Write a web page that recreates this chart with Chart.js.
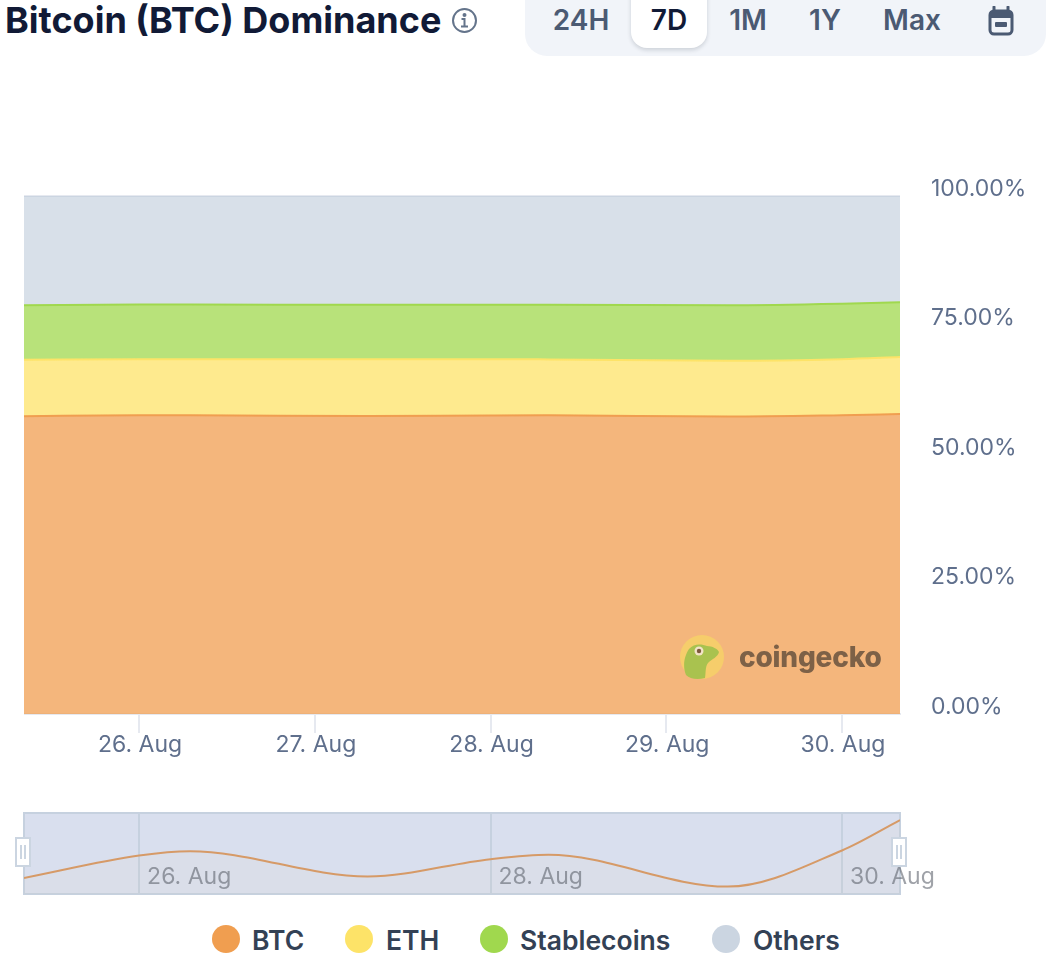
<!DOCTYPE html>
<html>
<head>
<meta charset="utf-8">
<title>Bitcoin (BTC) Dominance</title>
<script src="https://cdn.jsdelivr.net/npm/chart.js@4"></script>
<style>
    html, body { margin: 0; padding: 0; background: #fff; }
    body { width: 1046px; height: 956px; position: relative; overflow: hidden; font-family: Inter, sans-serif; }
    canvas { position: absolute; }
    #title { position: absolute; left: 5px; top: 0; line-height: 40px; font-size: 36px; font-weight: 700; color: #111a36; white-space: nowrap; }
    #info { position: absolute; left: 451px; top: 7px; }
    #tabs { position: absolute; left: 525px; top: -10px; width: 521px; height: 66px; background: #f1f4f9; border-radius: 0 0 22px 22px; }
    #active { position: absolute; left: 631px; top: -10px; width: 76px; height: 58px; background: #fff; border-radius: 0 0 16px 16px; box-shadow: 0 2px 4px rgba(15, 23, 42, .16); }
    .tab { position: absolute; top: 0; line-height: 40px; font-size: 28px; font-weight: 600; color: #4b5a73; transform: translateX(-50%); }
    .tab.on { color: #111a36; }
    #calendar { position: absolute; left: 987px; top: 6px; }
    #logo { position: absolute; left: 680px; top: 635px; }
    #brand { position: absolute; left: 739px; top: 638px; line-height: 38px; font-size: 28px; font-weight: 800; color: #7d6147; letter-spacing: -.2px; }
    .handle { position: absolute; top: 837px; width: 12px; height: 26px; background: #fff; border: 2px solid #cbd5e1; }
    .handle::after { content: ''; position: absolute; left: 3px; top: 6px; width: 2px; height: 14px; border-left: 2px solid #cbd5e1; border-right: 2px solid #cbd5e1; }
    .dot { position: absolute; top: 925px; width: 28px; height: 28px; border-radius: 50%; }
    .name { position: absolute; top: 920px; line-height: 40px; font-size: 26.5px; font-weight: 600; color: #334155; }
</style>
</head>
<body>
<div id="title">Bitcoin (BTC) Dominance</div>
<svg id="info" width="27" height="27" viewBox="0 0 27 27" fill="none" stroke="#64748b" stroke-width="2">
    <circle cx="13.5" cy="13.5" r="11.5"/>
    <path d="M10.5 12h3v7M10 19.5h7"/>
    <circle cx="13.5" cy="8" r="1" fill="#64748b"/>
</svg>
<div id="tabs"></div>
<div id="active"></div>
<div id="tabRow"></div>
<svg id="calendar" width="28" height="30" viewBox="0 0 28 30">
    <path d="M7 1v6M21 1v6" stroke="#4b5a73" stroke-width="3" stroke-linecap="round"/>
    <rect x="3" y="5" width="22" height="23" rx="4" fill="none" stroke="#4b5a73" stroke-width="3"/>
    <rect x="3" y="5" width="22" height="7" fill="#4b5a73"/>
    <rect x="8" y="16" width="12" height="5" rx="1" fill="#4b5a73"/>
</svg>

<canvas id="mainChart" style="left:24px;top:170px"></canvas>
<canvas id="navChart" style="left:22px;top:810px"></canvas>

<svg id="logo" width="44" height="44" viewBox="0 0 44 44">
    <circle cx="22" cy="22" r="22" fill="#f6cd6b"/>
    <path d="M6 40C2 30 5 20 9 14C14 8 22 9 27 11C32 11 38 14 39 17C38 22 32 24 28 28C25 32 26 38 25 43C17 45 10 44 6 40Z" fill="#a9c24f"/>
    <circle cx="19" cy="16" r="4.5" fill="#f3e3c8"/>
    <circle cx="19" cy="16" r="2.2" fill="#7d5a3c"/>
</svg>
<div id="brand">coingecko</div>

<div class="handle" style="left:15px"></div>
<div class="handle" style="left:891px"></div>
<div id="legend"></div>

<script>
// values
const days = [25.345, 26, 26.29, 27.3, 28, 28.33, 29.35, 30, 30.33];
const btc = [57.5, 57.655, 57.685, 57.51, 57.63, 57.66, 57.44, 57.69, 57.9];
const eth = [10.9, 10.845, 10.815, 10.99, 10.87, 10.79, 10.76, 10.81, 11];
const stablecoins = [10.5, 10.55, 10.55, 10.5, 10.5, 10.55, 10.7, 10.7, 10.6];
const others = [21.1, 20.95, 20.95, 21, 21, 21, 21.1, 20.8, 20.5];

const seriesNames = ['BTC', 'ETH', 'Stablecoins', 'Others'];
const seriesColors = ['#f09e50', '#fde368', '#a0d84e', '#cbd5e1'];
const seriesFills = ['rgba(240,158,80,.75)', 'rgba(253,227,104,.75)', 'rgba(160,216,78,.75)', 'rgba(203,213,225,.75)'];
const mainTickDays = [26, 27, 28, 29, 30];
const navTickDays = [26, 28, 30];
const tabs = ['24H', '7D', '1M', '1Y', 'Max'];
const tabCenters = [581, 669, 748, 825, 912];
const legendDots = [212, 345, 480, 712];
const legendNames = [252, 386, 520, 753];

const tickFont = { family: 'Inter', size: 23 };

tabs.forEach((t, i) => {
    const el = document.createElement('div');
    el.className = 'tab' + (t === '7D' ? ' on' : '');
    el.style.left = tabCenters[i] + 'px';
    el.textContent = t;
    document.getElementById('tabRow').appendChild(el);
});

seriesNames.forEach((name, i) => {
    const box = document.getElementById('legend');
    const dot = document.createElement('div');
    dot.className = 'dot';
    dot.style.left = legendDots[i] + 'px';
    dot.style.background = seriesColors[i];
    const label = document.createElement('div');
    label.className = 'name';
    label.style.left = legendNames[i] + 'px';
    label.textContent = name;
    box.appendChild(dot);
    box.appendChild(label);
});

function toPoints(values) {
    return values.map((v, i) => ({ x: days[i], y: v }));
}

function sizeCanvas(id, w, h) {
    const c = document.getElementById(id);
    c.width = w;
    c.height = h;
    c.style.width = w + 'px';
    c.style.height = h + 'px';
    return c.getContext('2d');
}

// 1. Stacked dominance chart
new Chart(sizeCanvas('mainChart', 1022, 600), {
    type: 'line',
    data: {
        datasets: [btc, eth, stablecoins, others].map((values, i) => ({
            label: seriesNames[i],
            data: toPoints(values),
            borderColor: seriesColors[i],
            backgroundColor: seriesFills[i],
            borderWidth: 2,
            pointRadius: 0,
            cubicInterpolationMode: 'monotone',
            fill: i === 0 ? 'origin' : '-1'
        }))
    },
    options: {
        responsive: false,
        animation: false,
        layout: { padding: { top: 26 } },
        plugins: { legend: { display: false }, tooltip: { enabled: false } },
        scales: {
            x: {
                type: 'linear',
                min: days[0],
                max: days[days.length - 1],
                afterBuildTicks: ax => { ax.ticks = mainTickDays.map(v => ({ value: v })); },
                afterFit: ax => { ax.height = 56; },
                border: { color: '#e6e9f0', width: 2 },
                grid: { drawOnChartArea: false, color: '#e6e9f0', tickColor: '#e6e9f0', tickLength: 19, lineWidth: 2 },
                ticks: { color: '#5f6f8c', font: tickFont, padding: -2, labelOffset: 1, maxRotation: 0, callback: v => `${v}. Aug` }
            },
            y: {
                position: 'right',
                stacked: true,
                min: 0,
                max: 100,
                afterFit: ax => { ax.width = 146; },
                border: { display: false },
                // tick marks stay invisible, their length only pushes the labels away from the plot
                grid: { color: c => (c.tick.value === 100 ? '#e6e9f0' : 'transparent'), lineWidth: 2, tickColor: 'transparent', tickLength: 25 },
                ticks: { stepSize: 25, color: '#5f6f8c', font: tickFont, padding: 6, labelOffset: -7, callback: v => v.toFixed(2) + '%' }
            }
        }
    }
});

// 2. Navigator under the chart
const navBackground = {
    id: 'navBackground',
    beforeDraw(chart) {
        const { ctx, chartArea: a } = chart;
        ctx.save();
        ctx.fillStyle = '#d9dfee';
        ctx.fillRect(a.left, a.top, a.width, a.height);
        ctx.strokeStyle = '#c6d1df';
        ctx.lineWidth = 2;
        ctx.strokeRect(a.left, a.top, a.width, a.height);
        ctx.restore();
    },
    afterDatasetsDraw(chart) {
        const { ctx, scales } = chart;
        ctx.save();
        ctx.font = '23px Inter';
        ctx.fillStyle = 'rgba(95,100,110,.6)';
        ctx.textBaseline = 'middle';
        navTickDays.forEach(d => {
            ctx.fillText(`${d}. Aug`, scales.x.getPixelForValue(d) + 8, 67);
        });
        ctx.restore();
    }
};

new Chart(sizeCanvas('navChart', 950, 90), {
    type: 'line',
    data: {
        datasets: [{
            data: toPoints(btc),
            borderColor: '#d69a67',
            backgroundColor: 'rgba(240,180,80,.03)',
            borderWidth: 2,
            pointRadius: 0,
            cubicInterpolationMode: 'monotone',
            fill: 'origin'
        }]
    },
    options: {
        responsive: false,
        animation: false,
        layout: { padding: { left: 2, top: 3, right: 72, bottom: 6 } },
        plugins: { legend: { display: false }, tooltip: { enabled: false } },
        scales: {
            x: {
                type: 'linear',
                min: days[0],
                max: days[days.length - 1],
                afterBuildTicks: ax => { ax.ticks = navTickDays.map(v => ({ value: v })); },
                afterFit: ax => { ax.height = 0; },
                border: { display: false },
                grid: { color: '#c6d1df', lineWidth: 2, drawTicks: false },
                ticks: { display: false }
            },
            y: { display: false, min: 57.389, max: 57.949 }
        }
    },
    plugins: [navBackground]
});
</script>
</body>
</html>
